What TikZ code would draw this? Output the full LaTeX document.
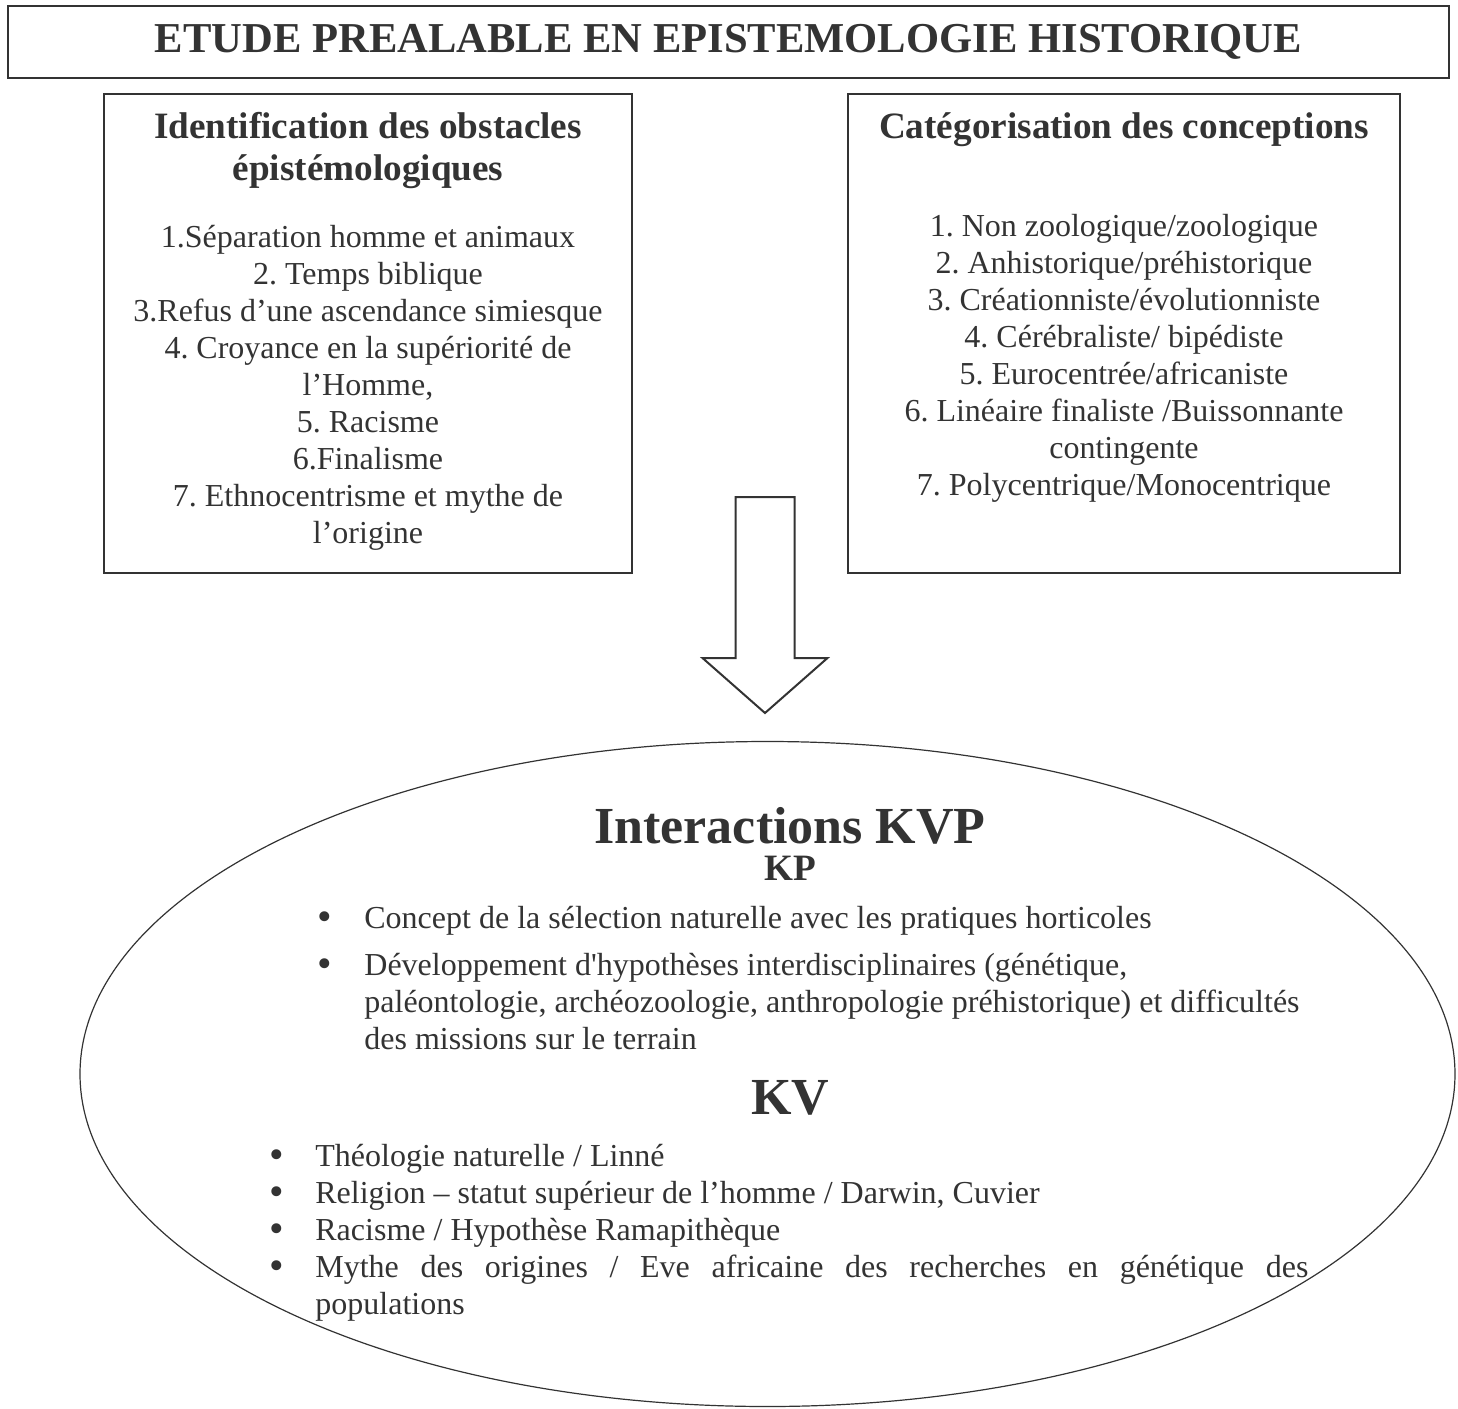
\documentclass[tikz,border=0pt]{standalone}
\usepackage{fontspec}
\usepackage{graphicx}
\setmainfont{Liberation Serif}
\usetikzlibrary{shapes.geometric, positioning}
\definecolor{encre}{HTML}{333333}
\newcommand{\puce}{\raisebox{-1pt}[0pt][0pt]{\scalebox{1.3}{\textbullet}}}
\frenchspacing

\begin{document}
\begin{tikzpicture}[x=0.5pt, y=-0.5pt, color=encre, text=encre,
    font=\fontsize{16}{18.5}\selectfont,
    boite/.style={draw, line width=0.8pt, inner sep=0pt},
    entete/.style={font=\fontsize{18.6}{21}\selectfont\bfseries, align=center},
    grand/.style={font=\fontsize{26}{30}\selectfont\bfseries, inner sep=0pt},
    liste/.style={align=center}]
    \useasboundingbox (0,0) rectangle (1458,1409);
    \node[boite, line width=1pt, minimum width=720.5pt, minimum height=36pt, font=\fontsize{21.3}{25}\selectfont\bfseries] (etude) at (728.5,42) {ETUDE PREALABLE EN EPISTEMOLOGIE HISTORIQUE};
    \node[boite, minimum width=264pt, minimum height=239.5pt] (obst) at (368,333.5) {};
    \node[boite, minimum width=276pt, minimum height=239.5pt] (categ) at (1124,333.5) {};
    \node[entete] (obsttitre) at (368,151) {Identification des obstacles\\épistémologiques};
    \node[liste] (obstliste) at (368,388) {1.Séparation homme et animaux\\2. Temps biblique\\3.Refus d’une ascendance simiesque\\4. Croyance en la supériorité de\\l’Homme,\\5. Racisme\\6.Finalisme\\7. Ethnocentrisme et mythe de\\l’origine};
    \node[entete] (categtitre) at (1124,130) {Catégorisation des conceptions};
    \node[liste] (categliste) at (1124,358) {1. Non zoologique/zoologique\\2. Anhistorique/préhistorique\\3. Créationniste/évolutionniste\\4. Cérébraliste/ bipédiste\\5. Eurocentrée/africaniste\\6. Linéaire finaliste /Buissonnante\\contingente\\7. Polycentrique/Monocentrique};
    % grosse fleche vers l'ellipse
    \coordinate (fl) at (765,497);
    \draw[line width=1pt, line join=miter] (fl) ++(-29.5,0) -- ++(0,161) -- ++(-33,0) -- ++(62.5,55) -- ++(62.5,-55) -- ++(-33,0) -- ++(0,-161) -- cycle;
    \node[draw, ellipse, line width=0.6pt, minimum width=687.5pt, minimum height=332.5pt, inner sep=0pt] (kvp) at (767.5,1074) {};
    \node[grand] (inter) at (790,826) {Interactions KVP};
    \node[entete, inner sep=0pt] (kp) at (790,868) {KP};
    \node[anchor=west, inner sep=0pt] (kpliste) at (317,982) {\begin{tabular}{@{}p{23.5pt}@{}l@{}}
        \puce & Concept de la sélection naturelle avec les pratiques horticoles\\[5pt]
        \puce & Développement d\textquotesingle hypothèses interdisciplinaires (génétique,\\
        & paléontologie, archéozoologie, anthropologie préhistorique) et difficultés\\
        & des missions sur le terrain
    \end{tabular}};
    \node[grand] (kv) at (790,1098) {KV};
    \node[anchor=west, inner sep=0pt] (kvliste) at (269,1233) {\begin{tabular}{@{}p{23pt}@{}l@{}}
        \puce & Théologie naturelle / Linné\\
        \puce & Religion – statut supérieur de l’homme / Darwin, Cuvier\\
        \puce & Racisme / Hypothèse Ramapithèque\\
        \puce & \makebox[496.5pt][s]{Mythe des origines / Eve africaine des recherches en génétique des}\\
        & populations
    \end{tabular}};
\end{tikzpicture}
\end{document}
